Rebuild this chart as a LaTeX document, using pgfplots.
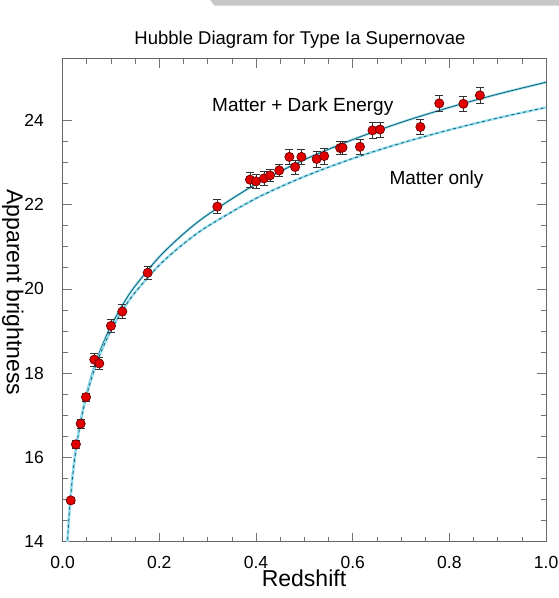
\documentclass[border=0pt]{standalone}
\usepackage{pgfplots}
\pgfplotsset{compat=1.18}
\usepackage{pgfplotstable}
\usepackage{fontspec}
\setmainfont{Liberation Sans}

\definecolor{sndot}{RGB}{225,0,0}
\definecolor{sndraw}{RGB}{110,0,0}
\definecolor{glow}{RGB}{150,222,238}
\definecolor{curve}{RGB}{20,95,115}

% redshift, apparent magnitude, error
\pgfplotstableread{
z      m      e
0.0168 14.98  0.08
0.0275 16.31  0.10
0.0374 16.80  0.10
0.0484 17.43  0.10
0.0656 18.32  0.15
0.0759 18.23  0.15
0.100  19.12  0.15
0.1235 19.46  0.17
0.176  20.38  0.15
0.320  21.95  0.17
0.3875 22.59  0.17
0.400  22.55  0.17
0.4165 22.62  0.17
0.429  22.69  0.15
0.448  22.81  0.15
0.469  23.13  0.17
0.481  22.89  0.17
0.494  23.13  0.17
0.5255 23.08  0.19
0.541  23.15  0.19
0.574  23.34  0.15
0.579  23.35  0.15
0.615  23.37  0.18
0.641  23.76  0.18
0.6565 23.78  0.18
0.740  23.84  0.18
0.779  24.40  0.19
0.829  24.39  0.17
0.863  24.59  0.19
}\sndata

% model curves
\pgfplotstableread{
z     lcdm    eds
0.008 13.489  13.480
0.010 13.977  13.965
0.012 14.376  14.362
0.015 14.865  14.849
0.020 15.499  15.476
0.025 15.991  15.963
0.030 16.395  16.362
0.040 17.036  16.991
0.050 17.536  17.481
0.060 17.947  17.882
0.070 18.297  18.222
0.080 18.603  18.517
0.100 19.116  19.011
0.125 19.637  19.508
0.150 20.067  19.915
0.200 20.758  20.562
0.250 21.304  21.068
0.300 21.757  21.483
0.400 22.486  22.145
0.500 23.063  22.664
0.600 23.540  23.091
0.700 23.948  23.455
0.800 24.304  23.771
0.900 24.619  24.052
1.000 24.902  24.304
}\models

\begin{document}
\begin{tikzpicture}
\begin{axis}[
  scale only axis, width=483.5bp, height=483bp,
  xmin=0, xmax=1, ymin=14, ymax=25.46,
  xtick={0,0.2,0.4,0.6,0.8,1}, xticklabels={0.0,0.2,0.4,0.6,0.8,1.0},
  ytick={14,16,18,20,22,24},
  minor x tick num=3, minor y tick num=3,
  tick align=inside,
  major tick length=9bp, minor tick length=5bp,
  axis line style={draw=black!60, line width=0.8bp},
  every tick/.style={black!55, line width=0.6bp},
  /pgf/number format/assume math mode=true,
  ticklabel style={font=\fontsize{17.5bp}{20bp}\selectfont},
  xticklabel style={anchor=base, yshift=-26.6bp},
  yticklabel style={anchor=east, inner sep=0pt, xshift=-18.6bp},
  clip mode=individual,
]
\addplot[glow, line width=2.4bp, smooth] table[x=z, y=lcdm] {\models};
\addplot[curve, line width=0.8bp, smooth] table[x=z, y=lcdm] {\models};
\addplot[glow, line width=2.4bp, smooth] table[x=z, y=eds] {\models};
\addplot[curve, line width=0.8bp, smooth, dash pattern=on 3bp off 3bp] table[x=z, y=eds] {\models};
\addplot[only marks, mark=*, mark size=4.6bp,
  mark options={fill=sndot, draw=sndraw, line width=0.7bp},
  error bars/.cd, y dir=both, y explicit,
  error bar style={black!80, line width=0.6bp},
  error mark options={rotate=90, mark size=4bp, black!80, line width=0.6bp}]
  table[x=z, y=m, y error=e] {\sndata};
\end{axis}
\node[anchor=base, font=\fontsize{18.5bp}{22bp}\selectfont] at (237.4bp,496.7bp) {Hubble Diagram for Type Ia Supernovae};
\node[anchor=base west, inner sep=0pt, font=\fontsize{19bp}{22bp}\selectfont] at (149.4bp,430bp) {Matter + Dark Energy};
\node[anchor=base west, inner sep=0pt, font=\fontsize{19bp}{22bp}\selectfont] at (326.7bp,356.7bp) {Matter only};
\node[anchor=base, inner sep=0pt, font=\fontsize{23bp}{26bp}\selectfont] at (241.4bp,-45bp) {Redshift};
\node[anchor=base, inner sep=0pt, rotate=-90, font=\fontsize{23bp}{26bp}\selectfont] at (-55.6bp,249.2bp) {Apparent brightness};
\fill[black!22] (147.4bp,541.7bp) -- (496.4bp,541.7bp) -- (496.4bp,536bp) -- (152bp,536bp) -- cycle;
\pgfresetboundingbox
\useasboundingbox (-62.6bp,-56.3bp) rectangle (496.4bp,541.7bp);
\end{tikzpicture}
\end{document}
